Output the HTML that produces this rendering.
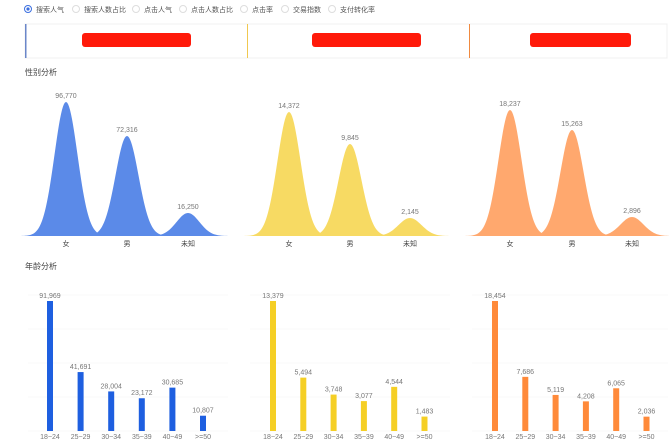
<!DOCTYPE html>
<html><head><meta charset="utf-8"><style>
body{margin:0;width:669px;height:443px;background:#fff;overflow:hidden;font-family:"Liberation Sans","Noto Sans CJK SC",sans-serif}
svg{position:absolute;left:0;top:0}
</style></head><body>
<svg id="s" width="669" height="443" xmlns="http://www.w3.org/2000/svg" font-family="Liberation Sans, Noto Sans CJK SC, sans-serif">
<g font-size="7" fill="#555">
<circle cx="28" cy="9" r="3.5" fill="none" stroke="#3b6fe0"/><circle cx="28" cy="9" r="1.6" fill="#3b6fe0"/>
<text x="36" y="12">搜索人气</text>
<circle cx="76" cy="9" r="3.5" fill="none" stroke="#ddd"/><text x="84" y="12">搜索人数占比</text>
<circle cx="136" cy="9" r="3.5" fill="none" stroke="#ddd"/><text x="144" y="12">点击人气</text>
<circle cx="183" cy="9" r="3.5" fill="none" stroke="#ddd"/><text x="191" y="12">点击人数占比</text>
<circle cx="244" cy="9" r="3.5" fill="none" stroke="#ddd"/><text x="252" y="12">点击率</text>
<circle cx="285" cy="9" r="3.5" fill="none" stroke="#ddd"/><text x="293" y="12">交易指数</text>
<circle cx="332" cy="9" r="3.5" fill="none" stroke="#ddd"/><text x="340" y="12">支付转化率</text>
</g>
<rect x="25" y="24" width="642" height="34" fill="#fff" stroke="#f0f0f0"/>
<rect x="25" y="24" width="1.5" height="34" fill="#6b87c9"/>
<rect x="247" y="24" width="1" height="34" fill="#f0c850"/>
<rect x="469" y="24" width="1" height="34" fill="#f08a40"/>
<rect x="82" y="33" width="109" height="14" rx="3" fill="#ff1a0a"/>
<rect x="312" y="33" width="109" height="14" rx="3" fill="#ff1a0a"/>
<rect x="530" y="33" width="101" height="14" rx="3" fill="#ff1a0a"/>
<text x="25" y="75" font-size="8" fill="#444">性别分析</text>
<text x="25" y="269" font-size="8" fill="#444">年龄分析</text>
<g id="g"></g>
</svg>
<script>
var g=document.getElementById('g'),h='';
function gauss(cx,top,sig,col){var b=236,d='M'+(cx-4*sig)+' '+b;for(var x=-4*sig;x<=4*sig;x+=1){d+=' L'+(cx+x)+' '+(b-(b-top)*Math.exp(-x*x/(2*sig*sig))).toFixed(2);}d+=' Z';return '<path d="'+d+'" fill="'+col+'"/>';}
var P=[
{c:'#5b8ae8',bc:'#1e5fe0',pk:[[66,102,'96,770'],[127,136,'72,316'],[188,213,'16,250']],x0:28,x1:228,bx:50,bs:30.6,v:[91969,41691,28004,23172,30685,10807]},
{c:'#f7da63',bc:'#f5cf25',pk:[[289,112,'14,372'],[350,144,'9,845'],[410,218,'2,145']],x0:250,x1:450,bx:273,bs:30.3,v:[13379,5494,3748,3077,4544,1483]},
{c:'#ffa86e',bc:'#ff8a3a',pk:[[510,110,'18,237'],[572,130,'15,263'],[632,217,'2,896']],x0:472,x1:668,bx:495,bs:30.3,v:[18454,7686,5119,4208,6065,2036]}];
var gl=['女','男','未知'],al=['18~24','25~29','30~34','35~39','40~49','>=50'];
P.forEach(function(p){
 for(var y=295;y<=431;y+=34)h+='<line x1="'+p.x0+'" x2="'+p.x1+'" y1="'+y+'" y2="'+y+'" stroke="#f6f6f6" stroke-width="0.7"/>';
 p.pk.forEach(function(k,i){h+=gauss(k[0],k[1],11.5,p.c);h+='<text x="'+k[0]+'" y="'+(k[1]-4)+'" font-size="7" fill="#777" text-anchor="middle">'+k[2]+'</text>';h+='<text x="'+k[0]+'" y="246" font-size="7" fill="#444" text-anchor="middle">'+gl[i]+'</text>';});
 var m=Math.max.apply(null,p.v);
 p.v.forEach(function(v,i){var x=p.bx+p.bs*i,hh=v/m*130,t=431-hh;h+='<rect x="'+(x-3)+'" y="'+t+'" width="6" height="'+hh+'" fill="'+p.bc+'"/>';h+='<text x="'+x+'" y="'+(t-3)+'" font-size="7" fill="#777" text-anchor="middle">'+v.toLocaleString('en-US')+'</text>';h+='<text x="'+x+'" y="439" font-size="7" fill="#777" text-anchor="middle">'+al[i]+'</text>';});
});
g.innerHTML=h;
</script>
</body></html>
